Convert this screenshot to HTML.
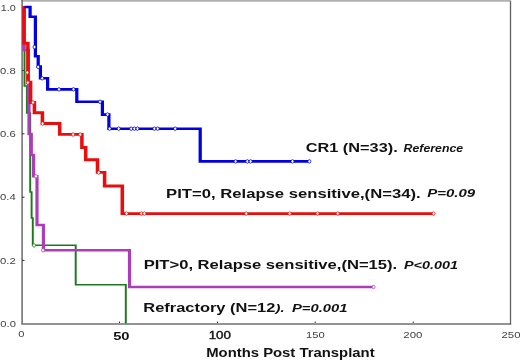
<!DOCTYPE html>
<html><head><meta charset="utf-8"><style>
html,body{margin:0;padding:0;background:#fff;width:520px;height:360px;overflow:hidden}
svg{display:block;will-change:transform}
text{font-family:"Liberation Sans",sans-serif}
.ax{fill:#444;font-size:9.9px}
.lb{fill:#111;font-size:12.2px;font-weight:bold}
.it{fill:#111;font-size:10.4px;font-weight:bold;font-style:italic}
</style></head><body>
<svg width="520" height="360" viewBox="0 0 520 360">
<line x1="21.4" y1="0.8" x2="511.1" y2="0.8" stroke="#b0b0b0" stroke-width="1.7"/>
<line x1="22.1" y1="0" x2="22.1" y2="324" stroke="#6a6a6a" stroke-width="1.5"/>
<line x1="21.4" y1="324" x2="511.1" y2="324" stroke="#707070" stroke-width="1.5"/>
<line x1="510.5" y1="1.2" x2="510.5" y2="324.5" stroke="#606060" stroke-width="1.3"/>
<g stroke="#333" stroke-width="1">
<line x1="22" y1="70.4" x2="24.5" y2="70.4"/>
<line x1="22" y1="133.8" x2="24.5" y2="133.8"/>
<line x1="22" y1="197.2" x2="24.5" y2="197.2"/>
<line x1="22" y1="260.4" x2="24.5" y2="260.4"/>
<line x1="119.5" y1="323" x2="119.5" y2="321.5"/>
<line x1="217.5" y1="323" x2="217.5" y2="321.5"/>
<line x1="315.2" y1="323" x2="315.2" y2="321.5"/>
<line x1="413.3" y1="323" x2="413.3" y2="321.5"/>
</g>
<g transform="scale(1.22,1)" fill="none" stroke-linejoin="miter" stroke-linecap="butt">
<path d="M20.082 7.0 V86 H22.049 V113 H24.754 V192 H25.902 V218 H26.885 V245.3 H62.049 V284.8 H103.115 V323.5" stroke="#1c7a1c" stroke-width="1.6"/>
<path d="M19.672 7.0 V50 H23.279 V100 H23.770 V134 H25.656 V155 H27.541 V176.3 H30.328 V225 H35.574 V250.2 H106.148 V287 H306.230" stroke="#ae3cba" stroke-width="2.6"/>
<path d="M19.672 6.0 V43.3 H22.869 V82.2 H25.082 V102.5 H28.197 V112.7 H34.754 V123.5 H48.934 V134.4 H67.131 V147.5 H70.246 V159.7 H79.918 V172.4 H85.738 V186 H100.246 V213.6 H355.328" stroke="#e80e0e" stroke-width="2.9"/>
<path d="M20.082 7.0 H24.672 V16.7 H29.016 V56.2 H31.311 V66.6 H33.115 V78.2 H39.016 V89.3 H62.951 V101.7 H83.934 V114.6 H89.262 V128.7 H164.098 V161.4 H253.689" stroke="#0000e0" stroke-width="2.65"/>
</g>
<g fill="#fff" stroke-width="0.75">
<g stroke="#0000e0"><ellipse cx="34.50" cy="47" rx="1.5" ry="1.75"/><ellipse cx="38.20" cy="66.9" rx="1.5" ry="1.75"/><ellipse cx="42.20" cy="78.3" rx="1.5" ry="1.75"/><ellipse cx="59.00" cy="89.4" rx="1.5" ry="1.75"/><ellipse cx="73.50" cy="89.3" rx="1.5" ry="1.75"/><ellipse cx="100.00" cy="101.8" rx="1.5" ry="1.75"/><ellipse cx="107.50" cy="114.5" rx="1.5" ry="1.75"/><ellipse cx="109.60" cy="128.7" rx="1.5" ry="1.75"/><ellipse cx="118.70" cy="128.7" rx="1.5" ry="1.75"/><ellipse cx="131.20" cy="128.7" rx="1.5" ry="1.75"/><ellipse cx="134.40" cy="128.7" rx="1.5" ry="1.75"/><ellipse cx="137.50" cy="128.7" rx="1.5" ry="1.75"/><ellipse cx="154.40" cy="128.7" rx="1.5" ry="1.75"/><ellipse cx="157.70" cy="128.7" rx="1.5" ry="1.75"/><ellipse cx="175.20" cy="128.7" rx="1.5" ry="1.75"/><ellipse cx="235.60" cy="161.4" rx="1.5" ry="1.75"/><ellipse cx="247.30" cy="161.4" rx="1.5" ry="1.75"/><ellipse cx="250.60" cy="161.4" rx="1.5" ry="1.75"/><ellipse cx="292.50" cy="161.4" rx="1.5" ry="1.75"/><ellipse cx="309.40" cy="161.4" rx="1.5" ry="1.75"/></g>
<g stroke="#e80e0e"><ellipse cx="27.30" cy="72.5" rx="1.5" ry="1.75"/><ellipse cx="27.80" cy="82.6" rx="1.5" ry="1.75"/><ellipse cx="33.00" cy="102.5" rx="1.5" ry="1.75"/><ellipse cx="42.60" cy="123.6" rx="1.5" ry="1.75"/><ellipse cx="73.10" cy="134.5" rx="1.5" ry="1.75"/><ellipse cx="80.20" cy="134.5" rx="1.5" ry="1.75"/><ellipse cx="98.70" cy="172.5" rx="1.5" ry="1.75"/><ellipse cx="126.50" cy="213.6" rx="1.5" ry="1.75"/><ellipse cx="141.30" cy="213.6" rx="1.5" ry="1.75"/><ellipse cx="144.40" cy="213.6" rx="1.5" ry="1.75"/><ellipse cx="246.20" cy="213.6" rx="1.5" ry="1.75"/><ellipse cx="289.70" cy="213.6" rx="1.5" ry="1.75"/><ellipse cx="317.50" cy="213.6" rx="1.5" ry="1.75"/><ellipse cx="337.80" cy="213.6" rx="1.5" ry="1.75"/><ellipse cx="433.60" cy="213.6" rx="1.5" ry="1.75"/></g>
<g stroke="#ae3cba"><ellipse cx="43.10" cy="250.2" rx="1.5" ry="1.75"/><ellipse cx="36.00" cy="176.3" rx="1.5" ry="1.75"/><ellipse cx="373.60" cy="287" rx="1.5" ry="1.75"/></g>
<g stroke="#1c7a1c"><ellipse cx="34.00" cy="245.4" rx="1.5" ry="1.75"/></g>
</g>
<text class="ax" x="0.8" y="10.8" textLength="15" lengthAdjust="spacingAndGlyphs">1.0</text>
<text class="ax" x="0" y="73.8" textLength="15.7" lengthAdjust="spacingAndGlyphs">0.8</text>
<text class="ax" x="0" y="136.8" textLength="15.7" lengthAdjust="spacingAndGlyphs">0.6</text>
<text class="ax" x="0" y="200.3" textLength="15.7" lengthAdjust="spacingAndGlyphs">0.4</text>
<text class="ax" x="0" y="263.7" textLength="15.7" lengthAdjust="spacingAndGlyphs">0.2</text>
<text class="ax" x="0.3" y="327.1" textLength="15.6" lengthAdjust="spacingAndGlyphs">0.0</text>
<text class="ax" x="18.3" y="337.1" textLength="6.2" lengthAdjust="spacingAndGlyphs">0</text>
<text x="113.2" y="340" textLength="16.4" lengthAdjust="spacingAndGlyphs" style="font-size:11px;font-weight:bold;fill:#111">50</text>
<text x="208.7" y="338.8" textLength="22.2" lengthAdjust="spacingAndGlyphs" style="font-size:10px;fill:#111;stroke:#111;stroke-width:0.35">100</text>
<text class="ax" x="306" y="338.1" textLength="18.6" lengthAdjust="spacingAndGlyphs">150</text>
<text class="ax" x="403.3" y="338.1" textLength="19.1" lengthAdjust="spacingAndGlyphs">200</text>
<text class="ax" x="501.5" y="337.9" textLength="19" lengthAdjust="spacingAndGlyphs">250</text>
<text class="lb" x="206.2" y="357.3" textLength="168.4" lengthAdjust="spacingAndGlyphs">Months Post Transplant</text>
<text class="lb" x="305.7" y="151.5" textLength="92" lengthAdjust="spacingAndGlyphs">CR1 (N=33).</text>
<text class="it" x="403.6" y="151.8" textLength="59.5" lengthAdjust="spacingAndGlyphs">Reference</text>
<text class="lb" x="166.1" y="197.5" textLength="254.5" lengthAdjust="spacingAndGlyphs">PIT=0, Relapse sensitive,(N=34).</text>
<text class="it" x="427.2" y="196.9" textLength="48" lengthAdjust="spacingAndGlyphs">P=0.09</text>
<text class="lb" x="143.7" y="268.7" textLength="253.5" lengthAdjust="spacingAndGlyphs">PIT&gt;0, Relapse sensitive,(N=15).</text>
<text class="it" x="404" y="268.5" textLength="54" lengthAdjust="spacingAndGlyphs">P&lt;0.001</text>
<text class="lb" x="143.3" y="311.7" textLength="132" lengthAdjust="spacingAndGlyphs">Refractory (N=12</text>
<text class="it" x="275.5" y="311.7" textLength="9" lengthAdjust="spacingAndGlyphs">).</text>
<text class="it" x="292" y="311.9" textLength="55.5" lengthAdjust="spacingAndGlyphs">P=0.001</text>
</svg>
</body></html>
